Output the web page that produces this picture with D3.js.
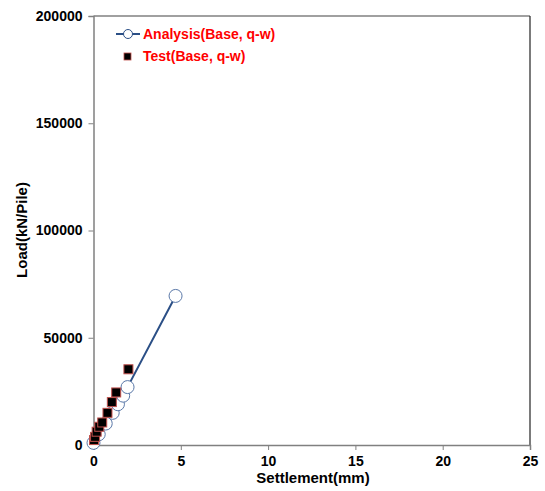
<!DOCTYPE html>
<html><head><meta charset="utf-8">
<script src="https://cdn.jsdelivr.net/npm/d3@7"></script>
<style>body{margin:0;background:#fff}svg{display:block}text{font-family:"Liberation Sans",Arial,sans-serif;font-weight:bold}</style>
</head><body><svg id="c" width="545" height="491"></svg>
<script>
const analysisX = [0, 0.3, 0.7, 1.1, 1.4, 1.7, 1.95, 4.7];
const analysisY = [1000, 5000, 10000, 15000, 19000, 23000, 27000, 69500];
const testX = [0.03, 0.09, 0.18, 0.33, 0.5, 0.8, 1.05, 1.3, 2.0];
const testY = [2300, 3800, 6200, 8500, 10500, 15000, 20000, 24500, 35300];
const xTicks = [0, 5, 10, 15, 20, 25];
const yTicks = [0, 50000, 100000, 150000, 200000];
const seriesNames = ["Analysis(Base, q-w)", "Test(Base, q-w)"];

const svg = d3.select("#c");
const L = 93.5, R = 530, T = 16, B = 445;
const x = d3.scaleLinear().domain([0, 25]).range([L, R]);
const y = d3.scaleLinear().domain([0, 200000]).range([B, T]);

// frame top/right
svg.append("line").attr("x1", L).attr("x2", R).attr("y1", T).attr("y2", T).attr("stroke", "#808080").attr("stroke-width", 1.5);
svg.append("line").attr("x1", R).attr("x2", R).attr("y1", T).attr("y2", B).attr("stroke", "#222").attr("stroke-width", 1.2);

const xa = svg.append("g").attr("transform", `translate(0,${B})`)
  .call(d3.axisBottom(x).tickValues(xTicks).tickSize(5).tickPadding(6).tickFormat(d3.format("d")));
const ya = svg.append("g").attr("transform", `translate(${L},0)`)
  .call(d3.axisLeft(y).tickValues(yTicks).tickSize(5).tickPadding(6).tickFormat(d3.format("d")));
[xa, ya].forEach(g => {
  g.select(".domain").attr("stroke", "#808080").attr("stroke-width", 1.5);
  g.selectAll(".tick line").attr("stroke", "#808080");
  g.selectAll("text").attr("font-size", 14).attr("fill", "#000").style("font-family", "'Liberation Sans',Arial,sans-serif").style("font-weight", "bold");
});

svg.append("text").attr("x", 313).attr("y", 483).attr("text-anchor", "middle").attr("font-size", 15).text("Settlement(mm)");
svg.append("text").attr("transform", "translate(27,230) rotate(-90)").attr("text-anchor", "middle").attr("font-size", 15).text("Load(kN/Pile)");

const aData = analysisX.map((v, i) => [v, analysisY[i]]);
const tData = testX.map((v, i) => [v, testY[i]]);

svg.append("path").datum(aData).attr("fill", "none").attr("stroke", "#2b4f86").attr("stroke-width", 2)
  .attr("d", d3.line().x(d => x(d[0])).y(d => y(d[1])));
svg.selectAll(".ac").data(aData).enter().append("circle")
  .attr("cx", d => x(d[0])).attr("cy", d => y(d[1])).attr("r", 6.5)
  .attr("fill", "#fff").attr("stroke", "#5a78a8").attr("stroke-width", 1);
svg.selectAll(".ts").data(tData).enter().append("rect")
  .attr("x", d => x(d[0]) - 4.5).attr("y", d => y(d[1]) - 4.5).attr("width", 9).attr("height", 9)
  .attr("fill", "#000").attr("stroke", "#c0504d").attr("stroke-width", 1);

// legend
svg.append("line").attr("x1", 116).attr("x2", 140).attr("y1", 34).attr("y2", 34).attr("stroke", "#2b4f86").attr("stroke-width", 2);
svg.append("circle").attr("cx", 128).attr("cy", 34).attr("r", 4.5).attr("fill", "#fff").attr("stroke", "#2b4f86").attr("stroke-width", 1);
svg.append("rect").attr("x", 124).attr("y", 53).attr("width", 7).attr("height", 7).attr("fill", "#000").attr("stroke", "#c0504d").attr("stroke-width", 0.8);
svg.selectAll(".lt").data(seriesNames).enter().append("text")
  .attr("x", 143).attr("y", (d, i) => 39 + i * 22).attr("font-size", 14).attr("fill", "#ff0000").text(d => d);
</script></body></html>
